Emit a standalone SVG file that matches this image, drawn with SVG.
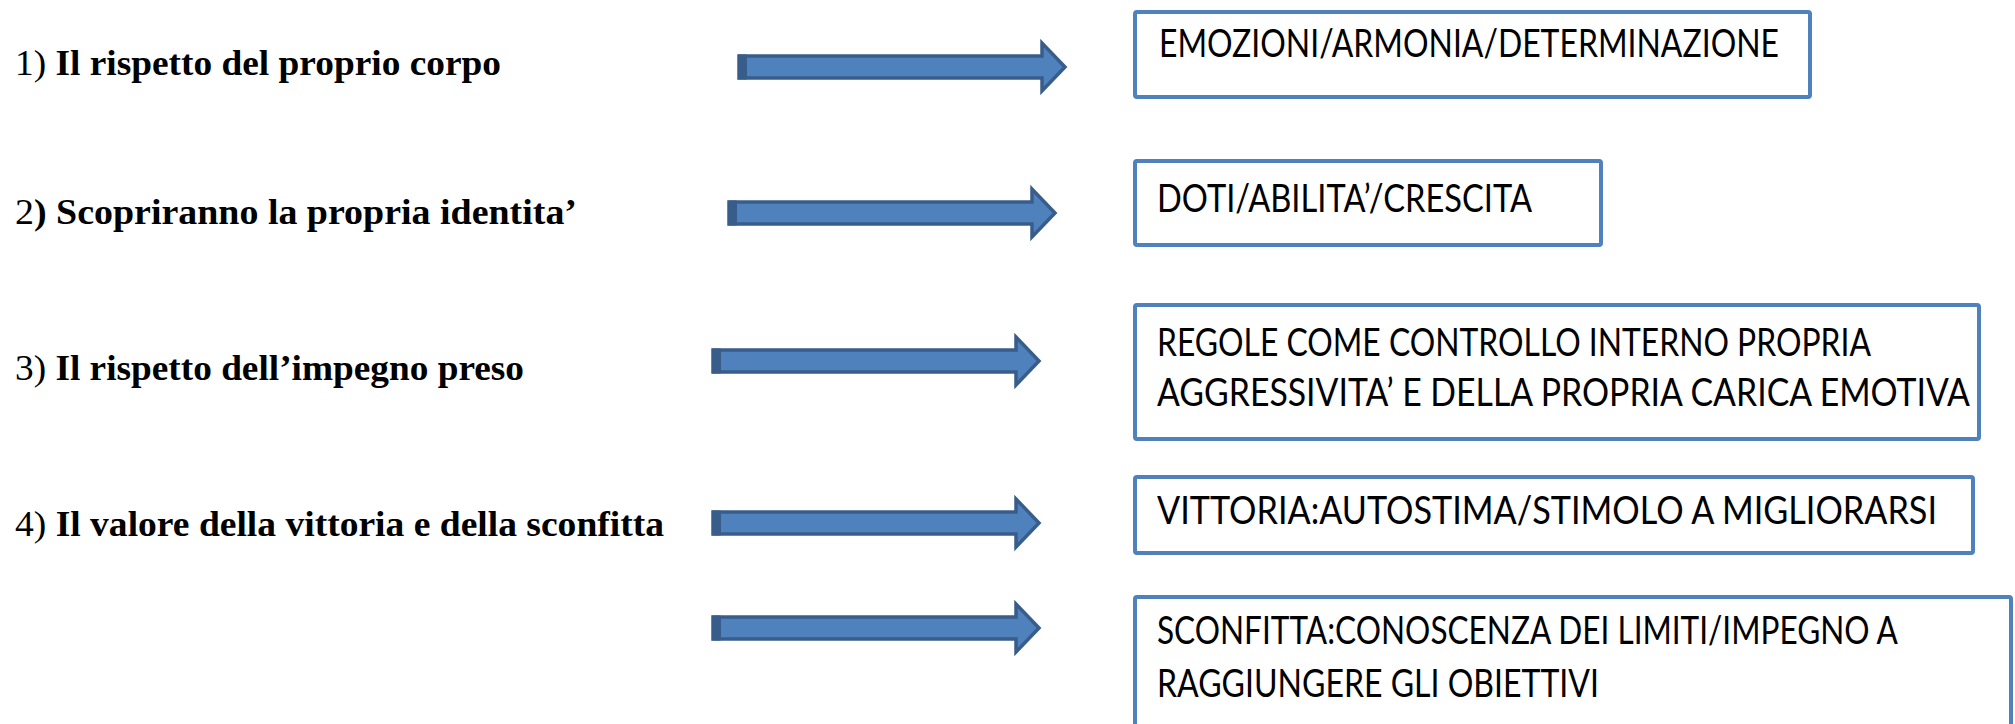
<svg xmlns="http://www.w3.org/2000/svg" width="2015" height="724" viewBox="0 0 2015 724">
  <style>
    .lbl { font-family: "Liberation Serif", "Times New Roman", serif; font-size: 35px; fill: #000; }
    .b { font-weight: bold; }
    .box { fill: #fff; stroke: #4F81BD; stroke-width: 4; }
    .bt { font-family: Lato, "Open Sans", "Liberation Sans", sans-serif; font-size: 38px; fill: #000; }
    .shaft { fill: #4F81BD; stroke: #385D8A; stroke-width: 3.5; stroke-linejoin: miter; }
    .cap { fill: #385D8A; }
  </style>
  <defs>
    <!-- block arrow, origin at the left end of the shaft, centred vertically -->
    <g id="blockArrow">
      <path class="shaft" d="M0,-11 L303,-11 L303,-24 L326,0 L303,24 L303,11 L0,11 Z"/>
      <rect class="cap" x="-1" y="-12.5" width="9" height="25" rx="1"/>
    </g>
  </defs>

  <rect width="2015" height="724" fill="#fff"/>

  <!-- left-hand statements -->
  <g id="item1">
    <text class="lbl" x="15" y="75" textLength="486" lengthAdjust="spacingAndGlyphs">1) <tspan class="b">Il rispetto del proprio corpo</tspan></text>
  </g>
  <g id="item2">
    <text class="lbl" x="15" y="224" textLength="562" lengthAdjust="spacingAndGlyphs">2<tspan class="b">) Scopriranno la propria identita’</tspan></text>
  </g>
  <g id="item3">
    <text class="lbl" x="15" y="380" textLength="509" lengthAdjust="spacingAndGlyphs">3) <tspan class="b">Il rispetto dell’impegno preso</tspan></text>
  </g>
  <g id="item4">
    <text class="lbl" x="15" y="536" textLength="649" lengthAdjust="spacingAndGlyphs">4) <tspan class="b">Il valore della vittoria e della sconfitta</tspan></text>
  </g>

  <!-- connectors -->
  <g id="connectors">
    <use href="#blockArrow" x="739" y="67"/>
    <use href="#blockArrow" x="729" y="213"/>
    <use href="#blockArrow" x="713" y="361"/>
    <use href="#blockArrow" x="713" y="523"/>
    <use href="#blockArrow" x="713" y="628"/>
  </g>

  <!-- right-hand boxes -->
  <g id="box1">
    <rect class="box" x="1135" y="12" width="675" height="85" rx="2"/>
    <text class="bt" x="1159" y="57" textLength="620" lengthAdjust="spacingAndGlyphs">EMOZIONI/ARMONIA/DETERMINAZIONE</text>
  </g>
  <g id="box2">
    <rect class="box" x="1135" y="161" width="466" height="84" rx="2"/>
    <text class="bt" x="1157" y="212" textLength="375" lengthAdjust="spacingAndGlyphs">DOTI/ABILITA’/CRESCITA</text>
  </g>
  <g id="box3">
    <rect class="box" x="1135" y="305" width="844" height="134" rx="2"/>
    <text class="bt" x="1157" y="356" textLength="714" lengthAdjust="spacingAndGlyphs">REGOLE COME CONTROLLO INTERNO PROPRIA</text>
    <text class="bt" x="1157" y="406" textLength="813" lengthAdjust="spacingAndGlyphs">AGGRESSIVITA’ E DELLA PROPRIA CARICA EMOTIVA</text>
  </g>
  <g id="box4">
    <rect class="box" x="1135" y="477" width="838" height="76" rx="2"/>
    <text class="bt" x="1157" y="524" textLength="780" lengthAdjust="spacingAndGlyphs">VITTORIA:AUTOSTIMA/STIMOLO A MIGLIORARSI</text>
  </g>
  <g id="box5">
    <rect class="box" x="1135" y="597" width="876" height="130" rx="2"/>
    <text class="bt" x="1157" y="644" textLength="741" lengthAdjust="spacingAndGlyphs">SCONFITTA:CONOSCENZA DEI LIMITI/IMPEGNO A</text>
    <text class="bt" x="1157" y="697" textLength="442" lengthAdjust="spacingAndGlyphs">RAGGIUNGERE GLI OBIETTIVI</text>
  </g>
</svg>
